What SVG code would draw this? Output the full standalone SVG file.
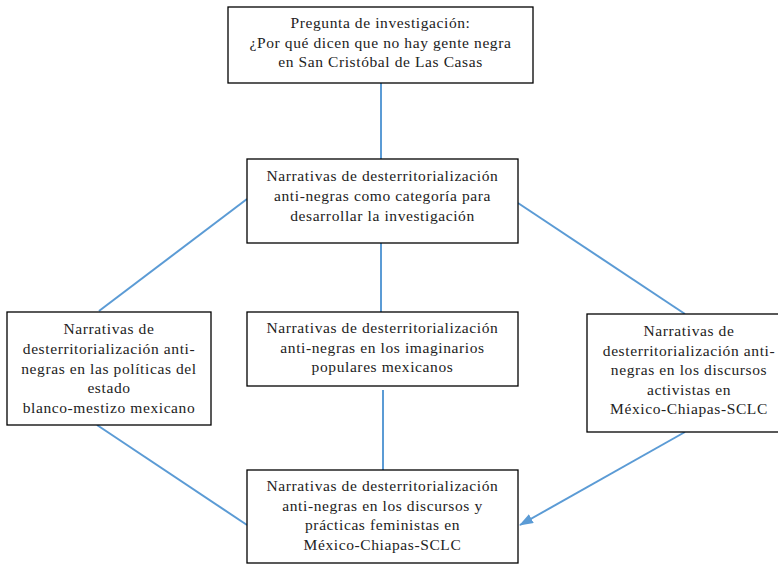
<svg xmlns="http://www.w3.org/2000/svg" width="778" height="565" viewBox="0 0 778 565">
<style>
.box{fill:#fff;stroke:#000;stroke-width:1.3}
.t{font-size:15.5px;letter-spacing:0.6px;fill:#222;text-anchor:middle}
.c{stroke:#5B9BD5;stroke-width:2;fill:none}
</style>
<defs>
<marker id="ah2" viewBox="0 0 14 10" refX="13" refY="5" markerWidth="14" markerHeight="10" markerUnits="userSpaceOnUse" orient="auto">
<path d="M0,0 L14,5 L0,10 Z" fill="#5B9BD5"/>
</marker>
</defs>
<rect width="778" height="565" fill="#fff"/>
<g id="connectors">
<line class="c" x1="381" y1="83" x2="381" y2="159"/>
<line class="c" x1="247" y1="199" x2="99" y2="311"/>
<line class="c" x1="518" y1="203" x2="685" y2="314"/>
<line class="c" x1="381" y1="243" x2="381" y2="312"/>
<line class="c" x1="383" y1="390" x2="383" y2="470"/>
<line class="c" x1="97" y1="425" x2="247" y2="525"/>
<line class="c" x1="685" y1="432" x2="520" y2="525" marker-end="url(#ah2)"/>
</g>
<g font-family="Liberation Serif, DejaVu Serif, serif">
<g id="n1">
<rect class="box" x="228" y="7" width="305" height="76"/>
<text class="t" x="380.5" y="28">Pregunta de investigación:</text>
<text class="t" x="380.5" y="48">¿Por qué dicen que no hay gente negra</text>
<text class="t" x="380.5" y="67">en San Cristóbal de Las Casas</text>
</g>
<g id="n2">
<rect class="box" x="247" y="159" width="271" height="84"/>
<text class="t" x="382.5" y="181">Narrativas de desterritorialización</text>
<text class="t" x="382.5" y="201">anti-negras como categoría para</text>
<text class="t" x="382.5" y="221">desarrollar la investigación</text>
</g>
<g id="n3">
<rect class="box" x="7" y="312" width="204" height="113"/>
<text class="t" x="109" y="334">Narrativas de</text>
<text class="t" x="109" y="354">desterritorialización anti-</text>
<text class="t" x="109" y="374">negras en las políticas del</text>
<text class="t" x="109" y="393">estado</text>
<text class="t" x="109" y="413">blanco-mestizo mexicano</text>
</g>
<g id="n4">
<rect class="box" x="247" y="312" width="271" height="74"/>
<text class="t" x="382.5" y="333">Narrativas de desterritorialización</text>
<text class="t" x="382.5" y="353">anti-negras en los imaginarios</text>
<text class="t" x="382.5" y="372">populares mexicanos</text>
</g>
<g id="n5">
<rect class="box" x="587" y="314" width="205" height="118"/>
<text class="t" x="689" y="336">Narrativas de</text>
<text class="t" x="689" y="356">desterritorialización anti-</text>
<text class="t" x="689" y="375">negras en los discursos</text>
<text class="t" x="689" y="395">activistas en</text>
<text class="t" x="689" y="414">México-Chiapas-SCLC</text>
</g>
<g id="n6">
<rect class="box" x="247" y="470" width="271" height="93"/>
<text class="t" x="382.5" y="491">Narrativas de desterritorialización</text>
<text class="t" x="382.5" y="511">anti-negras en los discursos y</text>
<text class="t" x="382.5" y="530">prácticas feministas en</text>
<text class="t" x="382.5" y="550">México-Chiapas-SCLC</text>
</g>
</g>
</svg>
